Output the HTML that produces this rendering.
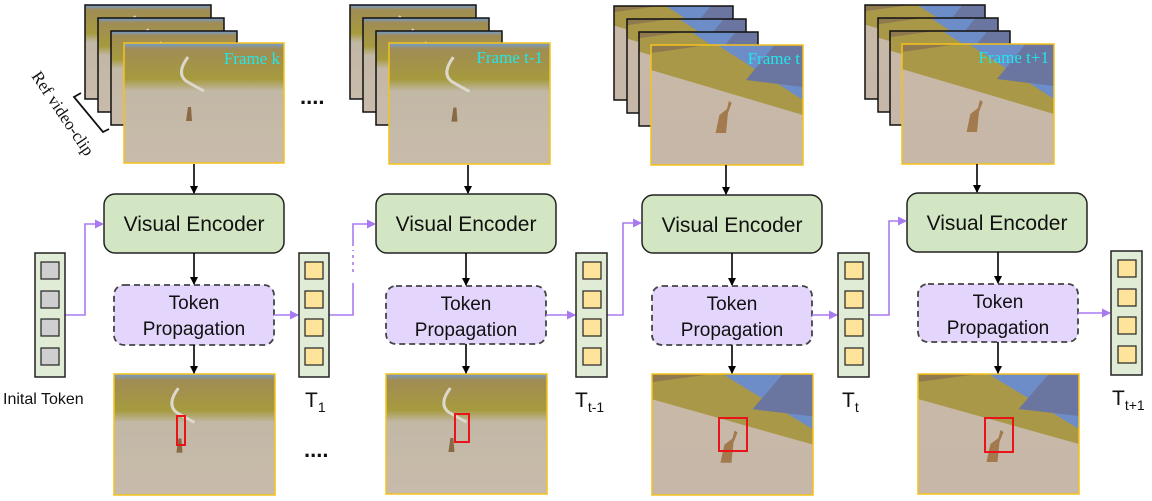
<!DOCTYPE html>
<html><head><meta charset="utf-8"><style>
html,body{margin:0;padding:0;background:#fff;}
svg{display:block;}
.enc{font-family:"Liberation Sans",sans-serif;font-size:21px;fill:#111;}
.tp{font-family:"Liberation Sans",sans-serif;font-size:19px;fill:#111;}
.fr{font-family:"Liberation Serif",serif;font-size:17px;fill:#22e6ea;}
.lab{font-family:"Liberation Sans",sans-serif;fill:#111;}
</style></head><body>
<svg width="1152" height="501" viewBox="0 0 1152 501" xmlns="http://www.w3.org/2000/svg">
<defs>
<linearGradient id="gA" x1="0" y1="0" x2="0" y2="1">
<stop offset="0" stop-color="#6f9ed6"/><stop offset="0.05" stop-color="#a08c55"/>
<stop offset="0.3" stop-color="#a69a3e"/><stop offset="0.4" stop-color="#c2b8a6"/>
<stop offset="1" stop-color="#c9bbab"/></linearGradient>
<linearGradient id="gB" x1="0" y1="0" x2="0" y2="1">
<stop offset="0" stop-color="#c9b8a8"/><stop offset="1" stop-color="#c6b7a8"/></linearGradient>
<symbol id="pA" viewBox="0 0 160 120" preserveAspectRatio="none">
<rect width="160" height="120" fill="url(#gA)" stroke="none"/>
<path d="M64 14 Q52 30 62 38 Q72 44 80 48" stroke="#ddd8cc" stroke-width="3" fill="none"/>
<path d="M62 78 l2 -14 l3 0 l1 14z" fill="#8a6a45" stroke="none"/>
</symbol>
<symbol id="pB" viewBox="0 0 160 120" preserveAspectRatio="none">
<rect width="160" height="120" fill="url(#gB)" stroke="none"/>
<polygon points="0,0 160,0 160,70 0,25" fill="#a99847" stroke="none"/>
<polygon points="70,0 160,0 160,55" fill="#6d8dc9" stroke="none"/>
<polygon points="100,35 130,0 160,0 160,42" fill="#6a76a0" stroke="none"/>
<polygon points="0,0 60,0 0,8" fill="#8f7a50" stroke="none"/>
<path d="M68 88 l4 -18 l8 -6 l2 -8 l3 2 l-4 10 l-2 20z" fill="#a27a4e" stroke="none"/>
</symbol>
<marker id="ak" markerWidth="8" markerHeight="8" refX="7" refY="4" orient="auto" markerUnits="userSpaceOnUse"><path d="M0 0 L8 4 L0 8z" fill="#000"/></marker>
<marker id="ap" markerWidth="9" markerHeight="9" refX="8" refY="4.5" orient="auto" markerUnits="userSpaceOnUse"><path d="M0 0 L9 4.5 L0 9z" fill="#a87af0"/></marker>
</defs>

<text x="0" y="0" transform="translate(31,76) rotate(56)" style="font-family:'Liberation Serif',serif;font-size:17px;fill:#111">Ref video-clip</text>
<path d="M81 93 L74 97 L103 132 L109 129" stroke="#111" stroke-width="1.8" fill="none"/>

<g stroke="#111" stroke-width="1.5">
<use href="#pA" x="85" y="5" width="126" height="94"/><rect x="85" y="5" width="126" height="94" fill="none"/>
<use href="#pA" x="98" y="18" width="126" height="94"/><rect x="98" y="18" width="126" height="94" fill="none"/>
<use href="#pA" x="111" y="31" width="126" height="94"/><rect x="111" y="31" width="126" height="94" fill="none"/>
<use href="#pA" x="350" y="5" width="126" height="94"/><rect x="350" y="5" width="126" height="94" fill="none"/>
<use href="#pA" x="363" y="18" width="126" height="94"/><rect x="363" y="18" width="126" height="94" fill="none"/>
<use href="#pA" x="376" y="31" width="126" height="94"/><rect x="376" y="31" width="126" height="94" fill="none"/>
<use href="#pB" x="614" y="6" width="119" height="94"/><rect x="614" y="6" width="119" height="94" fill="none"/>
<use href="#pB" x="627" y="19" width="119" height="94"/><rect x="627" y="19" width="119" height="94" fill="none"/>
<use href="#pB" x="639" y="32" width="119" height="94"/><rect x="639" y="32" width="119" height="94" fill="none"/>
<use href="#pB" x="865" y="5" width="120" height="94"/><rect x="865" y="5" width="120" height="94" fill="none"/>
<use href="#pB" x="878" y="18" width="120" height="94"/><rect x="878" y="18" width="120" height="94" fill="none"/>
<use href="#pB" x="890" y="31" width="120" height="94"/><rect x="890" y="31" width="120" height="94" fill="none"/>
</g>
<g stroke="#f5c21b" stroke-width="1.5">
<use href="#pA" x="124" y="43" width="160" height="120"/><rect x="124" y="43" width="160" height="120" fill="none"/>
<use href="#pA" x="389" y="43" width="161" height="121"/><rect x="389" y="43" width="161" height="121" fill="none"/>
<use href="#pB" x="651" y="45" width="152" height="120"/><rect x="651" y="45" width="152" height="120" fill="none"/>
<use href="#pB" x="902" y="44" width="152" height="120"/><rect x="902" y="44" width="152" height="120" fill="none"/>
<use href="#pA" x="114" y="374" width="161" height="121"/><rect x="114" y="374" width="161" height="121" fill="none"/>
<use href="#pA" x="386" y="374" width="161" height="120"/><rect x="386" y="374" width="161" height="120" fill="none"/>
<use href="#pB" x="652" y="374" width="161" height="121"/><rect x="652" y="374" width="161" height="121" fill="none"/>
<use href="#pB" x="918" y="374" width="161" height="120"/><rect x="918" y="374" width="161" height="120" fill="none"/>
</g>
<text class="fr" x="280" y="64" text-anchor="end">Frame k</text>
<text class="fr" x="543" y="63" text-anchor="end">Frame t-1</text>
<text class="fr" x="800" y="64" text-anchor="end">Frame t</text>
<text class="fr" x="1049" y="63" text-anchor="end">Frame t+1</text>

<g stroke="#e8141a" stroke-width="2" fill="none">
<rect x="177" y="416" width="8" height="29"/>
<rect x="455" y="414" width="14" height="28"/>
<rect x="719" y="418" width="28" height="33"/>
<rect x="985" y="418" width="28" height="34"/>
</g>

<text x="300" y="104" style="font-family:'Liberation Sans',sans-serif;font-size:22px;font-weight:bold;fill:#111">....</text>
<text x="304" y="457" style="font-family:'Liberation Sans',sans-serif;font-size:22px;font-weight:bold;fill:#111">....</text>

<g fill="#d3e6c4" stroke="#222" stroke-width="1.5">
<rect x="104" y="194" width="180" height="59" rx="11"/>
<rect x="376" y="194" width="180" height="59" rx="11"/>
<rect x="642" y="195" width="180" height="58" rx="11"/>
<rect x="907" y="193" width="180" height="59" rx="11"/>
</g>
<text class="enc" x="194" y="231" text-anchor="middle">Visual Encoder</text>
<text class="enc" x="466" y="231" text-anchor="middle">Visual Encoder</text>
<text class="enc" x="732" y="232" text-anchor="middle">Visual Encoder</text>
<text class="enc" x="997" y="230" text-anchor="middle">Visual Encoder</text>

<g fill="#e3d5fb" stroke="#444" stroke-width="1.8" stroke-dasharray="6,4">
<rect x="114" y="285" width="160" height="60" rx="10"/>
<rect x="386" y="286" width="160" height="58" rx="10"/>
<rect x="652" y="286" width="160" height="59" rx="10"/>
<rect x="918" y="284" width="160" height="58" rx="10"/>
</g>
<g class="tp" text-anchor="middle">
<text x="194" y="309">Token</text><text x="194" y="335">Propagation</text>
<text x="466" y="310">Token</text><text x="466" y="336">Propagation</text>
<text x="732" y="310">Token</text><text x="732" y="336">Propagation</text>
<text x="998" y="308">Token</text><text x="998" y="334">Propagation</text>
</g>

<g stroke="#000" stroke-width="1.6" marker-end="url(#ak)">
<line x1="194" y1="164" x2="194" y2="193"/>
<line x1="468" y1="165" x2="468" y2="193"/>
<line x1="726" y1="165" x2="726" y2="194"/>
<line x1="977" y1="164" x2="977" y2="192"/>
<line x1="194" y1="253" x2="194" y2="284"/>
<line x1="466" y1="253" x2="466" y2="285"/>
<line x1="732" y1="253" x2="732" y2="285"/>
<line x1="998" y1="252" x2="998" y2="283"/>
<line x1="194" y1="345" x2="194" y2="373"/>
<line x1="466" y1="344" x2="466" y2="373"/>
<line x1="732" y1="345" x2="732" y2="373"/>
<line x1="998" y1="342" x2="998" y2="373"/>
</g>

<g stroke="#a87af0" stroke-width="1.6" fill="none">
<path d="M65 315 H85 V224 H103" marker-end="url(#ap)"/>
<path d="M274 315 H298" marker-end="url(#ap)"/>
<path d="M329 315 H353 V283"/>
<path d="M353 272 V250" stroke-dasharray="3,4"/>
<path d="M353 246 V224 H375" marker-end="url(#ap)"/>
<path d="M546 315 H575" marker-end="url(#ap)"/>
<path d="M607 315 H623 V223 H641" marker-end="url(#ap)"/>
<path d="M812 315 H837" marker-end="url(#ap)"/>
<path d="M869 315 H889 V221 H906" marker-end="url(#ap)"/>
<path d="M1078 313 H1110" marker-end="url(#ap)"/>
</g>

<g stroke="#222" stroke-width="1.5">
<rect x="35" y="253" width="30" height="124" fill="#e0ecd5"/>
<rect x="299" y="253" width="30" height="124" fill="#e0ecd5"/>
<rect x="576" y="253" width="31" height="124" fill="#e0ecd5"/>
<rect x="838" y="253" width="31" height="124" fill="#e0ecd5"/>
<rect x="1111" y="251" width="31" height="124" fill="#e0ecd5"/>
</g>
<g stroke="#222" stroke-width="1.2" fill="#cfcfcf">
<rect x="41" y="262" width="18" height="17"/><rect x="41" y="291" width="18" height="17"/><rect x="41" y="319" width="18" height="17"/><rect x="41" y="348" width="18" height="17"/>
</g>
<g stroke="#222" stroke-width="1.2" fill="#fde49a">
<rect x="305" y="262" width="18" height="17"/><rect x="305" y="291" width="18" height="17"/><rect x="305" y="319" width="18" height="17"/><rect x="305" y="348" width="18" height="17"/>
<rect x="583" y="262" width="18" height="17"/><rect x="583" y="291" width="18" height="17"/><rect x="583" y="319" width="18" height="17"/><rect x="583" y="348" width="18" height="17"/>
<rect x="845" y="262" width="18" height="17"/><rect x="845" y="291" width="18" height="17"/><rect x="845" y="319" width="18" height="17"/><rect x="845" y="348" width="18" height="17"/>
<rect x="1118" y="260" width="18" height="17"/><rect x="1118" y="289" width="18" height="17"/><rect x="1118" y="317" width="18" height="17"/><rect x="1118" y="346" width="18" height="17"/>
</g>

<text class="lab" x="3" y="404" style="font-size:16px">Inital Token</text>
<text class="lab" x="305" y="407" style="font-size:21px">T<tspan dy="5" style="font-size:14px">1</tspan></text>
<text class="lab" x="575" y="407" style="font-size:21px">T<tspan dy="5" style="font-size:14px">t-1</tspan></text>
<text class="lab" x="842" y="407" style="font-size:21px">T<tspan dy="5" style="font-size:14px">t</tspan></text>
<text class="lab" x="1112" y="405" style="font-size:21px">T<tspan dy="5" style="font-size:14px">t+1</tspan></text>
</svg>
</body></html>
